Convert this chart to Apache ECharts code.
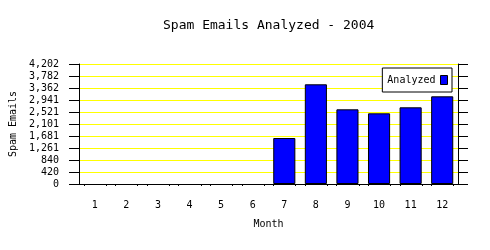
<!DOCTYPE html>
<html>
<head>
<meta charset="utf-8">
<script src="https://cdn.jsdelivr.net/npm/echarts@6/dist/echarts.min.js"></script>
<style>html,body{margin:0;padding:0;background:#fff;}#c{width:490px;height:250px;}</style>
</head>
<body>
<div id="c"></div>
<script>
const months = ['1','2','3','4','5','6','7','8','9','10','11','12'];
const analyzed = [0, 0, 0, 0, 0, 0, 1610, 3491, 2615, 2475, 2685, 3070];
const yTickLabels = ['0','420','840','1,261','1,681','2,101','2,521','2,941','3,362','3,782','4,202'];
const yMax = 4202;
const seriesName = 'Analyzed';
const titleText = 'Spam Emails Analyzed - 2004';

const FONT = 'DejaVu Sans Mono';
const BAR_RATIO = 0.7;
const chart = echarts.init(document.getElementById('c'), null, {renderer: 'canvas'});
const yInterval = yMax / 10;
const yCommon = {
  type: 'value', min: 0, max: yMax, interval: yInterval,
  axisLine: {show: true, lineStyle: {color: '#000', width: 1}},
  axisTick: {show: true, inside: false, length: 10, lineStyle: {color: '#000'}}
};
chart.setOption({
  animation: false,
  backgroundColor: '#fff',
  textStyle: {fontFamily: FONT},
  title: {
    text: titleText, left: 158, top: 14,
    textStyle: {fontFamily: FONT, fontSize: 13, fontWeight: 'normal', color: '#000'}
  },
  legend: {
    data: [{name: seriesName, icon: 'rect'}], right: 38, top: 68, orient: 'vertical', align: 'right',
    backgroundColor: '#fff', borderColor: '#000', borderWidth: 1, borderRadius: 0,
    padding: [7, 4, 7, 5], itemWidth: 7, itemHeight: 9,
    textStyle: {fontFamily: FONT, fontSize: 10, color: '#000'},
    itemStyle: {borderColor: '#000', borderWidth: 1}
  },
  grid: {left: 77, right: 32, top: 64, bottom: 66},
  xAxis: {
    type: 'category', data: months, boundaryGap: true,
    name: 'Month', nameLocation: 'middle', nameGap: 35,
    nameTextStyle: {fontFamily: FONT, fontSize: 10, color: '#000'},
    axisLine: {show: true, onZero: false, lineStyle: {color: '#000'}},
    axisTick: {show: false},
    axisLabel: {fontFamily: FONT, fontSize: 10, color: '#000', margin: 16}
  },
  yAxis: [
    Object.assign({}, yCommon, {
      position: 'left',
      name: 'Spam Emails', nameLocation: 'middle', nameGap: 54,
      nameTextStyle: {fontFamily: FONT, fontSize: 10, color: '#000'},
      axisLabel: {fontFamily: FONT, fontSize: 10, color: '#000', margin: 20,
        formatter: (v, i) => yTickLabels[i]},
      splitLine: {show: true, lineStyle: {color: '#ffff00', width: 1}}
    }),
    Object.assign({}, yCommon, {
      position: 'right',
      axisLabel: {show: false},
      splitLine: {show: false}
    })
  ],
  series: [
    {
      name: seriesName, type: 'bar', data: analyzed.map(v => v === 0 ? '-' : v),
      barWidth: (BAR_RATIO * 100) + '%',
      itemStyle: {color: '#0000ff', borderColor: '#000', borderWidth: 1}
    },
    {
      type: 'custom', silent: true, legendHoverLink: false,
      data: months.map((m, i) => [i, 0]),
      renderItem: function (params, api) {
        const p = api.coord([api.value(0), 0]);
        const half = api.size([1, 0])[0] * BAR_RATIO / 2;
        const mk = (x) => ({type: 'line', shape: {x1: x, y1: p[1], x2: x, y2: p[1] + 2},
          style: {stroke: '#000', lineWidth: 1}});
        return {type: 'group', children: [mk(Math.round(p[0] - half) + 0.5), mk(Math.round(p[0] + half) + 0.5)]};
      },
      z: 5
    }
  ]
});
</script>
</body>
</html>
